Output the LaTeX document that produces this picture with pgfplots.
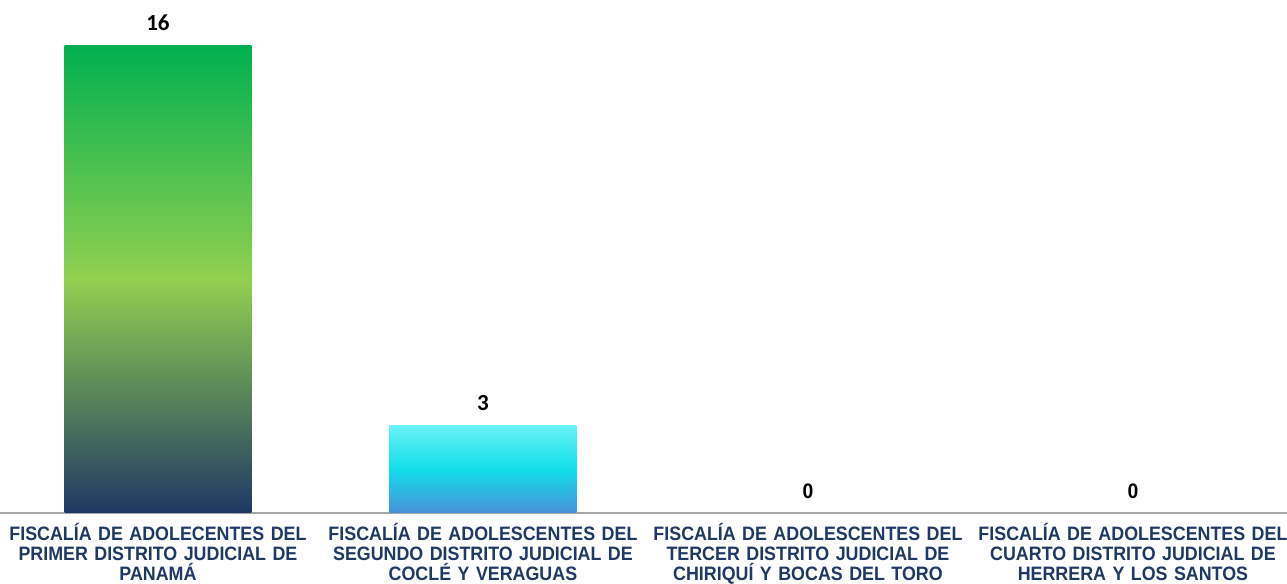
\documentclass[border=0pt]{standalone}
\usepackage{pgfplots}
\pgfplotsset{compat=1.18}
\usepackage{fontspec}
\setmainfont{Liberation Sans}
\newfontfamily\calibri{Carlito}
\newfontfamily\arialn[FakeStretch=0.92]{Liberation Sans}
\definecolor{navy}{HTML}{1F3864}
\definecolor{gTop}{HTML}{00B050}
\definecolor{gMid}{HTML}{92D050}
\definecolor{gBot}{HTML}{1F3864}
\definecolor{cTop}{HTML}{68F1F6}
\definecolor{cMid}{HTML}{12DFEA}
\definecolor{cBot}{HTML}{4A90D8}
\definecolor{axgray}{HTML}{A6A6A6}
\begin{document}
\begin{tikzpicture}
\begin{axis}[
  scale only axis,
  width=643.5pt, height=256.5pt,
  xmin=-0.486, xmax=3.474,
  ymin=0, ymax=17.54,
  ybar,
  bar width=0.575,
  axis x line*=bottom,
  axis y line=none,
  axis line style={axgray, line width=1pt},
  /pgf/number format/assume math mode=true,
  xtick={0,1,2,3},
  major tick length=0pt,
  xtick style={draw=none},
  xticklabels={
    {FISCALÍA DE ADOLECENTES DEL\\PRIMER DISTRITO JUDICIAL DE\\PANAMÁ},
    {FISCALÍA DE ADOLESCENTES DEL\\SEGUNDO DISTRITO JUDICIAL DE\\COCLÉ Y VERAGUAS},
    {FISCALÍA DE ADOLESCENTES DEL\\TERCER DISTRITO JUDICIAL DE\\CHIRIQUÍ Y BOCAS DEL TORO},
    {FISCALÍA DE ADOLESCENTES DEL\\CUARTO DISTRITO JUDICIAL DE\\HERRERA Y LOS SANTOS}},
  xticklabel style={align=center, text width=160pt, font=\arialn\bfseries\fontsize{9.7}{10}\selectfont, text=navy, inner sep=0pt, yshift=-5pt},
  clip=false,
]
\addplot[bar shift=0pt, draw=none, top color=gTop, bottom color=gBot, middle color=gMid,
  nodes near coords, nodes near coords style={font=\calibri\bfseries\fontsize{11.5}{12}\selectfont, text=black, anchor=south, inner sep=0pt, yshift=7pt}]
  coordinates {(0,16)};
\addplot[bar shift=0pt, draw=none, top color=cTop, bottom color=cBot, middle color=cMid,
  nodes near coords, nodes near coords style={font=\calibri\bfseries\fontsize{11.5}{12}\selectfont, text=black, anchor=south, inner sep=0pt, yshift=7pt}]
  coordinates {(1,3)};
\addplot[bar shift=0pt, draw=none, fill=none,
  nodes near coords, nodes near coords style={font=\arialn\bfseries\fontsize{10.5}{12}\selectfont, text=black, anchor=south, inner sep=0pt, yshift=7pt}]
  coordinates {(2,0) (3,0)};
\end{axis}
\pgfresetboundingbox
\path (current axis.south west) ++(0,-35.5pt) coordinate (bl);
\path (current axis.north east) coordinate (tr);
\useasboundingbox (bl) rectangle (tr);
\end{tikzpicture}
\end{document}
